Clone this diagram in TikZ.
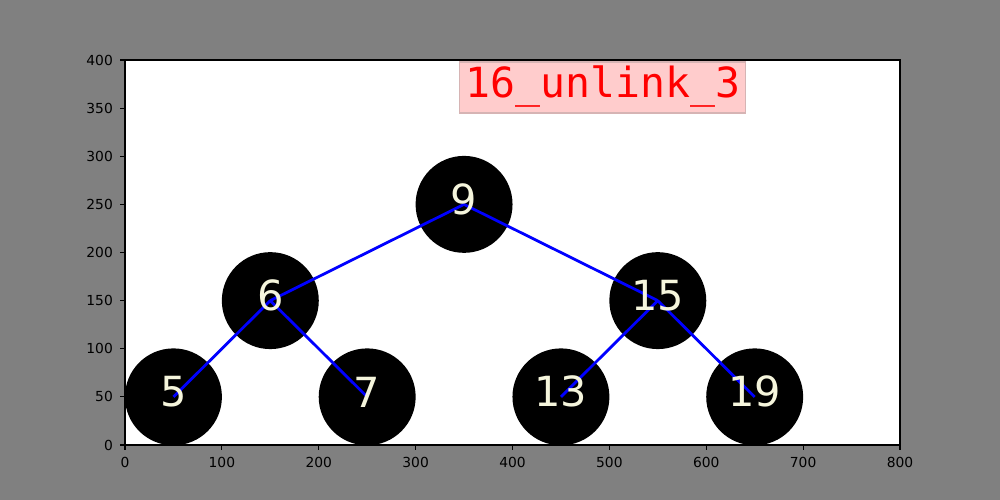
\documentclass[tikz,border=0pt]{standalone}
\usepackage{fontspec}
\setmainfont{DejaVu Sans}
\newfontfamily\monofont{DejaVu Sans Mono}
\usetikzlibrary{positioning}
\definecolor{figgray}{RGB}{128,128,128}
\definecolor{cream}{RGB}{245,245,220}
\definecolor{boxpink}{RGB}{255,204,204}
\definecolor{boxedge}{RGB}{214,180,180}

\begin{document}
\begin{tikzpicture}[x=0.72bp,y=0.72bp,
  keynode/.style={circle,fill=black,minimum size=69.8bp,inner sep=0pt},
  keytext/.style={text=cream,font=\fontsize{30}{36}\selectfont,yshift=3.6bp},
  edge/.style={blue,line width=2bp},
  axisline/.style={line width=0.8bp},
  ticklabel/.style={font=\fontsize{10}{12}\selectfont,inner sep=0pt},
  titlebox/.style={fill=boxpink,draw=boxedge,line width=1bp,text=red,font=\monofont\fontsize{30}{36}\selectfont,
    inner xsep=4bp,inner ysep=0pt,text height=25.9bp,text depth=10.8bp}]
\useasboundingbox (0,0) rectangle (1000,500);
\fill [figgray] (0,0) rectangle (1000,500);
\fill [white] (125,55) rectangle (900,440);

% ticks
\foreach \v in {0,100,...,800}
{
  \draw [axisline] (125+0.96875*\v,55) -- ++(0,-4.86) node [ticklabel,below=4.86bp] {\v};
}
\foreach \v in {0,50,...,400}
{
  \draw [axisline] (125,55+0.9625*\v) -- ++(-4.86,0) node [ticklabel,left=4.86bp] {\v};
}

\begin{scope}[shift={(125,55)},xscale=0.96875,yscale=0.9625]
\node [keynode] (n9) at (350,250) {};
\node [keynode] (n6) at (150,150) {};
\node [keynode] (n15) at (550,150) {};
\node [keynode] (n5) at (50,50) {};
\node [keynode] (n7) at (250,50) {};
\node [keynode] (n13) at (450,50) {};
\node [keynode] (n19) at (650,50) {};

\draw [edge] (n9.center) -- (n6.center);
\draw [edge] (n9.center) -- (n15.center);
\draw [edge] (n6.center) -- (n5.center);
\draw [edge] (n6.center) -- (n7.center);
\draw [edge] (n15.center) -- (n13.center);
\draw [edge] (n15.center) -- (n19.center);

\node [keytext] at (n9) {9};
\node [keytext] at (n6) {6};
\node [keytext] at (n15) {15};
\node [keytext] at (n5) {5};
\node [keytext] at (n7) {7};
\node [keytext] at (n13) {13};
\node [keytext] at (n19) {19};
\end{scope}

\draw [axisline] (125,55) rectangle (900,440);

\node [titlebox,anchor=base west] (title) at (459,402) {16\_unlink\_3};

\end{tikzpicture}
\end{document}
